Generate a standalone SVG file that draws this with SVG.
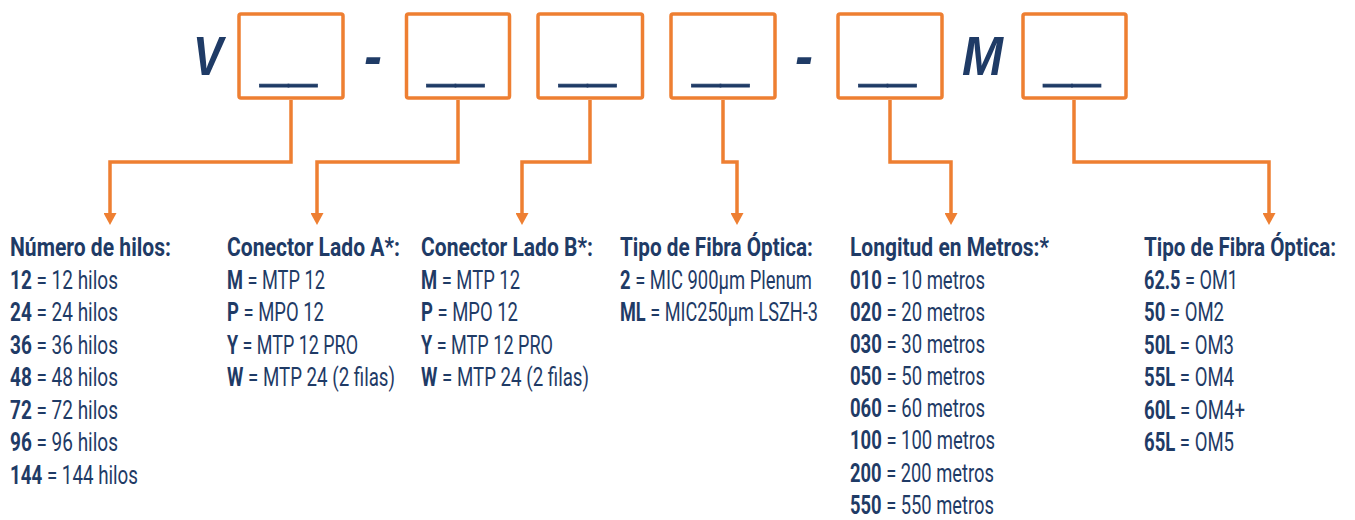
<svg xmlns="http://www.w3.org/2000/svg" width="1355" height="520" viewBox="0 0 1355 520">
<style>
.box{fill:none;stroke:#EE7F32;stroke-width:3.5}
.big{font-family:"Liberation Sans",Arial,sans-serif;font-weight:700;font-style:italic;font-size:56px;fill:#1F3B66}
.us{font-family:"Liberation Sans",Arial,sans-serif;font-weight:700;font-style:italic;font-size:70px;fill:#1F3B66;stroke:#1F3B66;stroke-width:1}
.con{fill:none;stroke:#EE7F32;stroke-width:3.5;stroke-linejoin:miter}
.h{font-family:Roboto,"Liberation Sans",sans-serif;font-weight:700;font-size:26px;fill:#1F3B66}
.t{font-family:Roboto,"Liberation Sans",sans-serif;font-weight:400;font-size:26px;fill:#1F3B66}
.b{font-weight:700}
</style>
<defs>
<marker id="arr" viewBox="0 0 12 13" refX="0" refY="6.5" markerWidth="12" markerHeight="13" markerUnits="userSpaceOnUse" orient="auto">
<path d="M0,0 L12,6.5 L0,13 z" fill="#EE7F32"/>
</marker>
</defs>

<text class="big" x="193" y="75" textLength="30" lengthAdjust="spacingAndGlyphs">V</text>
<text class="big" x="364" y="75" textLength="18" lengthAdjust="spacingAndGlyphs">-</text>
<text class="big" x="795" y="75" textLength="18" lengthAdjust="spacingAndGlyphs">-</text>
<text class="big" x="962" y="75" textLength="41" lengthAdjust="spacingAndGlyphs">M</text>

<g id="box1"><rect class="box" x="239" y="14" width="104" height="84" rx="2"/><text class="us" x="291" y="78" text-anchor="middle" textLength="57" lengthAdjust="spacingAndGlyphs">__</text></g>
<g id="box2"><rect class="box" x="406.5" y="14" width="103" height="84" rx="2"/><text class="us" x="458" y="78" text-anchor="middle" textLength="57" lengthAdjust="spacingAndGlyphs">__</text></g>
<g id="box3"><rect class="box" x="538" y="14" width="104.5" height="84" rx="2"/><text class="us" x="590" y="78" text-anchor="middle" textLength="57" lengthAdjust="spacingAndGlyphs">__</text></g>
<g id="box4"><rect class="box" x="671" y="14" width="104" height="84" rx="2"/><text class="us" x="723" y="78" text-anchor="middle" textLength="57" lengthAdjust="spacingAndGlyphs">__</text></g>
<g id="box5"><rect class="box" x="838" y="14" width="104" height="84" rx="2"/><text class="us" x="890" y="78" text-anchor="middle" textLength="57" lengthAdjust="spacingAndGlyphs">__</text></g>
<g id="box6"><rect class="box" x="1023" y="14" width="103" height="84" rx="2"/><text class="us" x="1074.5" y="78" text-anchor="middle" textLength="57" lengthAdjust="spacingAndGlyphs">__</text></g>

<g id="connectors">
<path class="con" d="M291,100 V162 H110 V213" marker-end="url(#arr)"/>
<path class="con" d="M458,100 V162 H317 V213" marker-end="url(#arr)"/>
<path class="con" d="M590,100 V162 H522 V213" marker-end="url(#arr)"/>
<path class="con" d="M723,100 V162 H737 V213" marker-end="url(#arr)"/>
<path class="con" d="M890,100 V162 H951 V213" marker-end="url(#arr)"/>
<path class="con" d="M1074,100 V162 H1269 V213" marker-end="url(#arr)"/>
</g>

<g id="hilos" transform="translate(10 0) scale(0.76 1)">
<text class="h" x="0" y="256" textLength="211.8" lengthAdjust="spacingAndGlyphs">Número de hilos:</text>
<text class="t" x="0" y="289" textLength="142.1" lengthAdjust="spacingAndGlyphs"><tspan class="b">12</tspan> = 12 hilos</text>
<text class="t" x="0" y="321.5" textLength="142.1" lengthAdjust="spacingAndGlyphs"><tspan class="b">24</tspan> = 24 hilos</text>
<text class="t" x="0" y="354" textLength="142.1" lengthAdjust="spacingAndGlyphs"><tspan class="b">36</tspan> = 36 hilos</text>
<text class="t" x="0" y="386.5" textLength="142.1" lengthAdjust="spacingAndGlyphs"><tspan class="b">48</tspan> = 48 hilos</text>
<text class="t" x="0" y="419" textLength="142.1" lengthAdjust="spacingAndGlyphs"><tspan class="b">72</tspan> = 72 hilos</text>
<text class="t" x="0" y="451.5" textLength="142.1" lengthAdjust="spacingAndGlyphs"><tspan class="b">96</tspan> = 96 hilos</text>
<text class="t" x="0" y="484" textLength="168.4" lengthAdjust="spacingAndGlyphs"><tspan class="b">144</tspan> = 144 hilos</text>
</g>

<g id="ladoA" transform="translate(227 0) scale(0.76 1)">
<text class="h" x="0" y="256" textLength="227.6" lengthAdjust="spacingAndGlyphs">Conector Lado A*:</text>
<text class="t" x="0" y="289" textLength="128.9" lengthAdjust="spacingAndGlyphs"><tspan class="b">M</tspan> = MTP 12</text>
<text class="t" x="0" y="321.5" textLength="127.6" lengthAdjust="spacingAndGlyphs"><tspan class="b">P</tspan> = MPO 12</text>
<text class="t" x="0" y="354" textLength="172.4" lengthAdjust="spacingAndGlyphs"><tspan class="b">Y</tspan> = MTP 12 PRO</text>
<text class="t" x="0" y="386.5" textLength="221.1" lengthAdjust="spacingAndGlyphs"><tspan class="b">W</tspan> = MTP 24 (2 filas)</text>
</g>

<g id="ladoB" transform="translate(421 0) scale(0.76 1)">
<text class="h" x="0" y="256" textLength="226.3" lengthAdjust="spacingAndGlyphs">Conector Lado B*:</text>
<text class="t" x="0" y="289" textLength="130.3" lengthAdjust="spacingAndGlyphs"><tspan class="b">M</tspan> = MTP 12</text>
<text class="t" x="0" y="321.5" textLength="127.6" lengthAdjust="spacingAndGlyphs"><tspan class="b">P</tspan> = MPO 12</text>
<text class="t" x="0" y="354" textLength="173.7" lengthAdjust="spacingAndGlyphs"><tspan class="b">Y</tspan> = MTP 12 PRO</text>
<text class="t" x="0" y="386.5" textLength="221.1" lengthAdjust="spacingAndGlyphs"><tspan class="b">W</tspan> = MTP 24 (2 filas)</text>
</g>

<g id="tipo1" transform="translate(620 0) scale(0.76 1)">
<text class="h" x="0" y="256" textLength="253.9" lengthAdjust="spacingAndGlyphs">Tipo de Fibra Óptica:</text>
<text class="t" x="0" y="289" textLength="252.6" lengthAdjust="spacingAndGlyphs"><tspan class="b">2</tspan> = MIC 900μm Plenum</text>
<text class="t" x="0" y="321.5" textLength="260.5" lengthAdjust="spacingAndGlyphs"><tspan class="b">ML</tspan> = MIC250μm LSZH-3</text>
</g>

<g id="longitud" transform="translate(850 0) scale(0.76 1)">
<text class="h" x="0" y="256" textLength="261.8" lengthAdjust="spacingAndGlyphs">Longitud en Metros:*</text>
<text class="t" x="0" y="289" textLength="177.6" lengthAdjust="spacingAndGlyphs"><tspan class="b">010</tspan> = 10 metros</text>
<text class="t" x="0" y="321.1" textLength="177.6" lengthAdjust="spacingAndGlyphs"><tspan class="b">020</tspan> = 20 metros</text>
<text class="t" x="0" y="353.2" textLength="177.6" lengthAdjust="spacingAndGlyphs"><tspan class="b">030</tspan> = 30 metros</text>
<text class="t" x="0" y="385.3" textLength="177.6" lengthAdjust="spacingAndGlyphs"><tspan class="b">050</tspan> = 50 metros</text>
<text class="t" x="0" y="417.4" textLength="177.6" lengthAdjust="spacingAndGlyphs"><tspan class="b">060</tspan> = 60 metros</text>
<text class="t" x="0" y="449.5" textLength="190.8" lengthAdjust="spacingAndGlyphs"><tspan class="b">100</tspan> = 100 metros</text>
<text class="t" x="0" y="481.6" textLength="189.5" lengthAdjust="spacingAndGlyphs"><tspan class="b">200</tspan> = 200 metros</text>
<text class="t" x="0" y="513.6" textLength="189.5" lengthAdjust="spacingAndGlyphs"><tspan class="b">550</tspan> = 550 metros</text>
</g>

<g id="tipo2" transform="translate(1144 0) scale(0.76 1)">
<text class="h" x="0" y="256" textLength="252.6" lengthAdjust="spacingAndGlyphs">Tipo de Fibra Óptica:</text>
<text class="t" x="0" y="289" textLength="123.7" lengthAdjust="spacingAndGlyphs"><tspan class="b">62.5</tspan> = OM1</text>
<text class="t" x="0" y="321.5" textLength="105.3" lengthAdjust="spacingAndGlyphs"><tspan class="b">50</tspan> = OM2</text>
<text class="t" x="0" y="354" textLength="118.4" lengthAdjust="spacingAndGlyphs"><tspan class="b">50L</tspan> = OM3</text>
<text class="t" x="0" y="386.5" textLength="118.4" lengthAdjust="spacingAndGlyphs"><tspan class="b">55L</tspan> = OM4</text>
<text class="t" x="0" y="419" textLength="132.9" lengthAdjust="spacingAndGlyphs"><tspan class="b">60L</tspan> = OM4+</text>
<text class="t" x="0" y="451.5" textLength="118.4" lengthAdjust="spacingAndGlyphs"><tspan class="b">65L</tspan> = OM5</text>
</g>
</svg>
